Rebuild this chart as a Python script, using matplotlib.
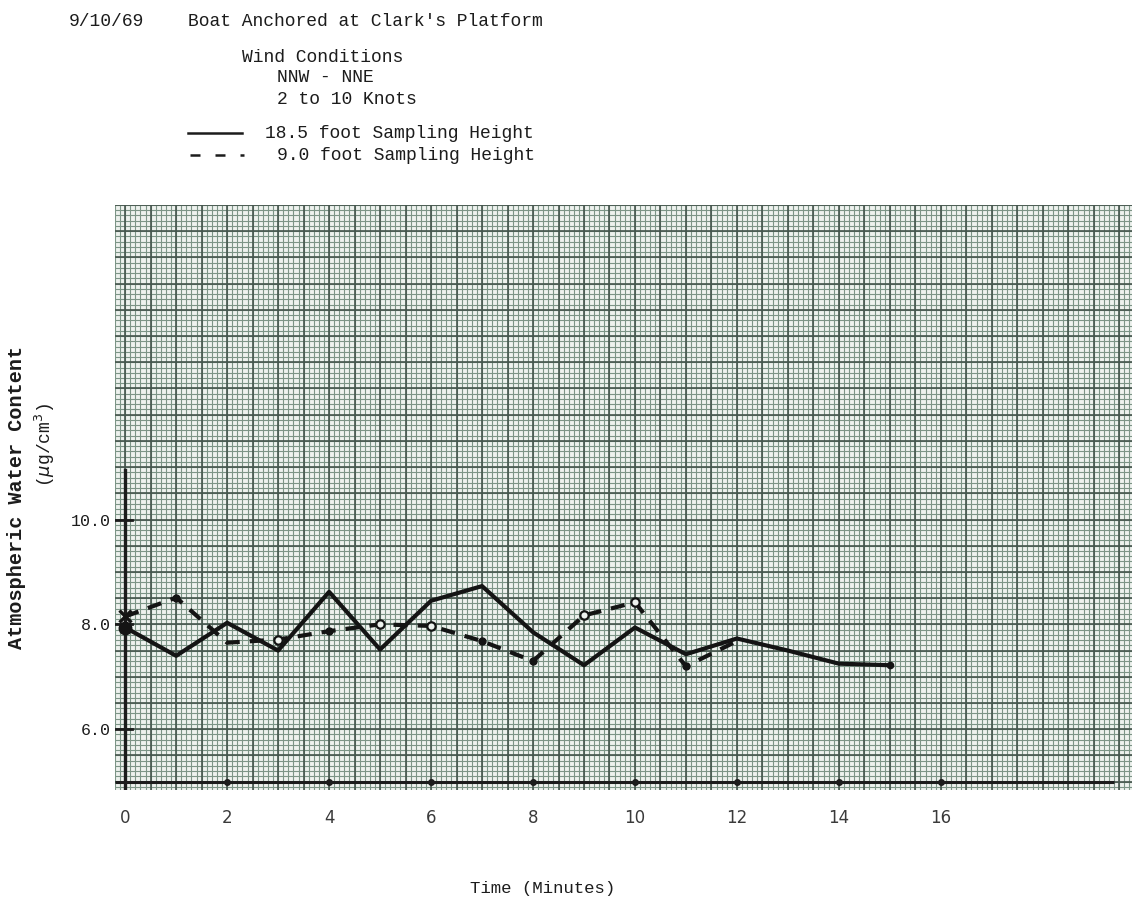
import numpy as np
import matplotlib
matplotlib.use("Agg")
import matplotlib.pyplot as plt
from matplotlib.lines import Line2D

# Atmospheric water content readings, one per minute
minutes_high = [0, 1, 2, 3, 4, 5, 6, 7, 8, 9, 10, 11, 12, 13, 14, 15]
water_high = [7.94, 7.40, 8.03, 7.50, 8.62, 7.52, 8.45, 8.73, 7.85, 7.22,
              7.94, 7.43, 7.73, 7.50, 7.25, 7.22]          # 18.5 ft height

minutes_low = [0, 1, 2, 3, 4, 5, 6, 7, 8, 9, 10, 11, 12]
water_low = [8.15, 8.51, 7.65, 7.71, 7.87, 8.00, 7.97, 7.68, 7.30, 8.17,
             8.42, 7.20, 7.68]                               # 9.0 ft height

x_ticks = [0, 2, 4, 6, 8, 10, 12, 14, 16]
y_ticks = [6.0, 8.0, 10.0]
y_tick_labels = ["6.0", "8.0", "10.0"]

MONO = "Liberation Mono"
INK = "#1c1c1c"
W, H = 1137, 897
fig = plt.figure(figsize=(W / 100, H / 100), dpi=100)
fig.patch.set_facecolor("white")


def fx(px):
    return px / W


def fy(py):
    return 1 - py / H


# graph paper area
x0, x1 = -0.2, 19.75
y0, y1 = 4.84, 16.0
ax = fig.add_axes([fx(115), fy(790), fx(1132) - fx(115), fy(205) - fy(790)])
ax.set_xlim(x0, x1)
ax.set_ylim(y0, y1)
paper = "#eef2ee"
ax.set_facecolor(paper)
for s in ax.spines.values():
    s.set_visible(False)

# fine rulings every 0.1, heavier rulings every 0.5
fine_x = np.arange(-0.2, 19.76, 0.1)
fine_y = np.arange(4.9, 16.01, 0.1)
ax.vlines(fine_x, y0, y1, color="#7c9486", lw=0.8, zorder=1)
ax.hlines(fine_y, x0, x1, color="#7c9486", lw=0.8, zorder=1)
major_x = np.arange(0, 19.76, 0.5)
major_y = np.arange(5.0, 16.01, 0.5)
ax.vlines(major_x, y0, y1, color="#45554d", lw=1.2, zorder=2)
ax.hlines(major_y, x0, x1, color="#45554d", lw=1.2, zorder=2)

# hand-ruled axes
ax.plot([-0.2, 19.4], [5.0, 5.0], color=INK, lw=2.2, zorder=4,
        solid_capstyle="butt")
ax.plot([0, 0], [4.84, 10.95], color=INK, lw=2.4, zorder=4)
for yt in y_ticks:
    ax.plot([-0.2, 0.14], [yt, yt], color=INK, lw=2.0, zorder=4)
ax.plot(x_ticks[1:], [5.0] * (len(x_ticks) - 1), "o", color=INK,
        ms=4, zorder=5)

# data curves
ax.plot(minutes_high, water_high, color="#141414", lw=3.0, zorder=6,
        solid_joinstyle="round", solid_capstyle="round")
ax.plot(minutes_low, water_low, color="#141414", lw=3.0, zorder=6,
        dashes=(3.4, 2.4), dash_capstyle="butt")
ax.plot([minutes_high[-1]], [water_high[-1]], "o", color="#141414", ms=4.5,
        zorder=7)
open_pts = [3, 5, 6, 9, 10]
filled_pts = [1, 4, 7, 8, 11]
ax.plot([minutes_low[i] for i in open_pts], [water_low[i] for i in open_pts],
        "o", ms=6, mfc=paper, mec="#141414", mew=1.6, zorder=7)
ax.plot([minutes_low[i] for i in filled_pts],
        [water_low[i] for i in filled_pts], "o", ms=5, color="#141414",
        zorder=7)
ax.plot([minutes_low[0]], [water_low[0]], "x", ms=8, mew=2.4,
        color="#141414", zorder=7)
ax.plot([minutes_high[0]], [water_high[0]], "o", ms=9, color="#141414",
        zorder=7)

# tick labels
ax.set_xticks(x_ticks)
ax.set_xticklabels([str(v) for v in x_ticks], fontsize=12,
                   family="DejaVu Sans", color="#3a3a3a")
ax.tick_params(axis="x", length=0, pad=14)
ax.set_yticks(y_ticks)
ax.set_yticklabels(y_tick_labels, fontsize=12, family=MONO, color=INK)
ax.tick_params(axis="y", length=0, pad=3)

# axis titles
fig.text(fx(470), fy(888), "Time (Minutes)", fontsize=12.5, family=MONO,
         color=INK, va="center", ha="left")
fig.text(fx(17), fy(497), "Atmospheric Water Content", fontsize=14.5,
         family=MONO, color=INK, rotation=90, va="center",
         ha="center", weight="bold")
fig.text(fx(45), fy(445), r"($\mu$g/cm$^3$)", fontsize=13, family=MONO,
         color=INK, rotation=90, va="center", ha="center")

# header block
hdr = dict(fontsize=13, family=MONO, color=INK, va="center")
fig.text(fx(69), fy(21), "9/10/69", **hdr)
fig.text(fx(188), fy(21), "Boat Anchored at Clark's Platform", **hdr)
fig.text(fx(242), fy(57), "Wind Conditions", **hdr)
fig.text(fx(277), fy(78), "NNW - NNE", **hdr)
fig.text(fx(277), fy(99), "2 to 10 Knots", **hdr)
fig.text(fx(265), fy(133), "18.5 foot Sampling Height", **hdr)
fig.text(fx(277), fy(155), "9.0 foot Sampling Height", **hdr)
fig.add_artist(Line2D([fx(188), fx(242)], [fy(133), fy(133)],
                      color=INK, lw=1.8))
fig.add_artist(Line2D([fx(190), fx(244)], [fy(155), fy(155)],
                      color=INK, lw=1.8, dashes=(4, 6)))

fig.savefig("out.png", dpi=100, facecolor="white")
